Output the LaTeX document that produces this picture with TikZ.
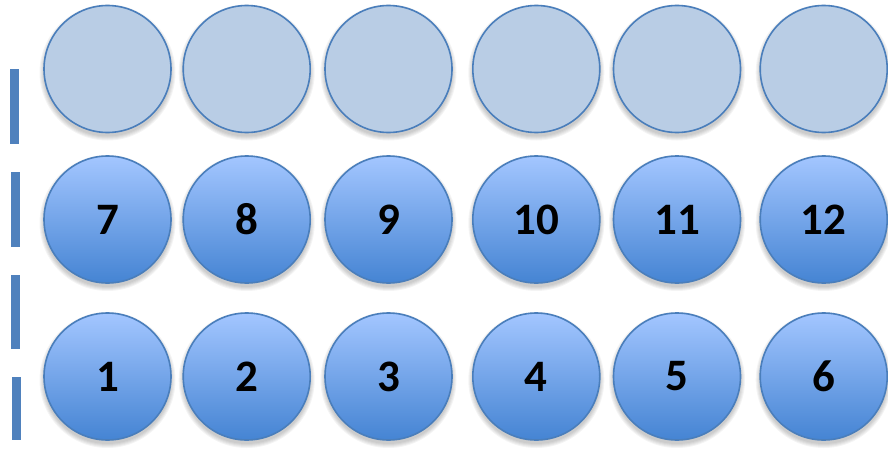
\documentclass[tikz,border=0pt]{standalone}
\usepackage{fontspec}
\setmainfont{Carlito}
\usetikzlibrary{backgrounds}
\definecolor{ballborder}{HTML}{4A7EBB}
\definecolor{topfill}{HTML}{B9CDE5}
\definecolor{gradtop}{HTML}{A3C6FF}
\definecolor{gradbot}{HTML}{4584D3}
\definecolor{barblue}{HTML}{4F81BD}
\begin{document}
\begin{tikzpicture}[x=1pt,y=1pt,
  ball/.style={circle, draw=ballborder, line width=1.6pt, minimum size=127pt, inner sep=0pt,
    font=\bfseries\fontsize{45}{45}\selectfont},
  topball/.style={ball, fill=topfill},
  numball/.style={ball, top color=gradtop, bottom color=gradbot},
  barshape/.style={fill=barblue, draw=none}]
\useasboundingbox (0,0) rectangle (888,451);
% column positions
\def\xa{107.5}\def\xb{246.7}\def\xc{388.5}\def\xd{536.3}\def\xe{677}\def\xf{823.7}
% top row
\node[topball] (t1) at (\xa,382) {};
\node[topball] (t2) at (\xb,382) {};
\node[topball] (t3) at (\xc,382) {};
\node[topball] (t4) at (\xd,382) {};
\node[topball] (t5) at (\xe,382) {};
\node[topball] (t6) at (\xf,382) {};
% middle row
\node[numball] (m7) at (\xa,231.5) {\raisebox{-1.5pt}{7}};
\node[numball] (m8) at (\xb,231.5) {\raisebox{-1.5pt}{8}};
\node[numball] (m9) at (\xc,231.5) {\raisebox{-1.5pt}{9}};
\node[numball] (m10) at (\xd,231.5) {\raisebox{-1.5pt}{10}};
\node[numball] (m11) at (\xe,231.5) {\raisebox{-1.5pt}{11}};
\node[numball] (m12) at (\xf,231.5) {\raisebox{-1.5pt}{12}};
% bottom row
\node[numball] (b1) at (\xa,74.5) {\raisebox{-1.5pt}{1}};
\node[numball] (b2) at (\xb,74.5) {\raisebox{-1.5pt}{2}};
\node[numball] (b3) at (\xc,74.5) {\raisebox{-1.5pt}{3}};
\node[numball] (b4) at (\xd,74.5) {\raisebox{-1.5pt}{4}};
\node[numball] (b5) at (\xe,74.5) {\raisebox{-1.5pt}{5}};
\node[numball] (b6) at (\xf,74.5) {\raisebox{-1.5pt}{6}};
% soft shadows
\begin{scope}[on background layer]
\foreach \n in {t1,t2,t3,t4,t5,t6,m7,m8,m9,m10,m11,m12,b1,b2,b3,b4,b5,b6}{
  \foreach \r in {0.5,1.5,2.5,3.5,4.5}{
    \fill[black, opacity=0.045] ([yshift=-3.5pt]\n.center) circle[radius=63.5+\r];
  }
}
\end{scope}
% bars
\fill[barshape] (9.5,307) rectangle (19,382);
\fill[barshape] (10.5,204) rectangle (19.5,279);
\fill[barshape] (11,102) rectangle (20,176);
\fill[barshape] (12,11) rectangle (21,74);
\end{tikzpicture}
\end{document}
